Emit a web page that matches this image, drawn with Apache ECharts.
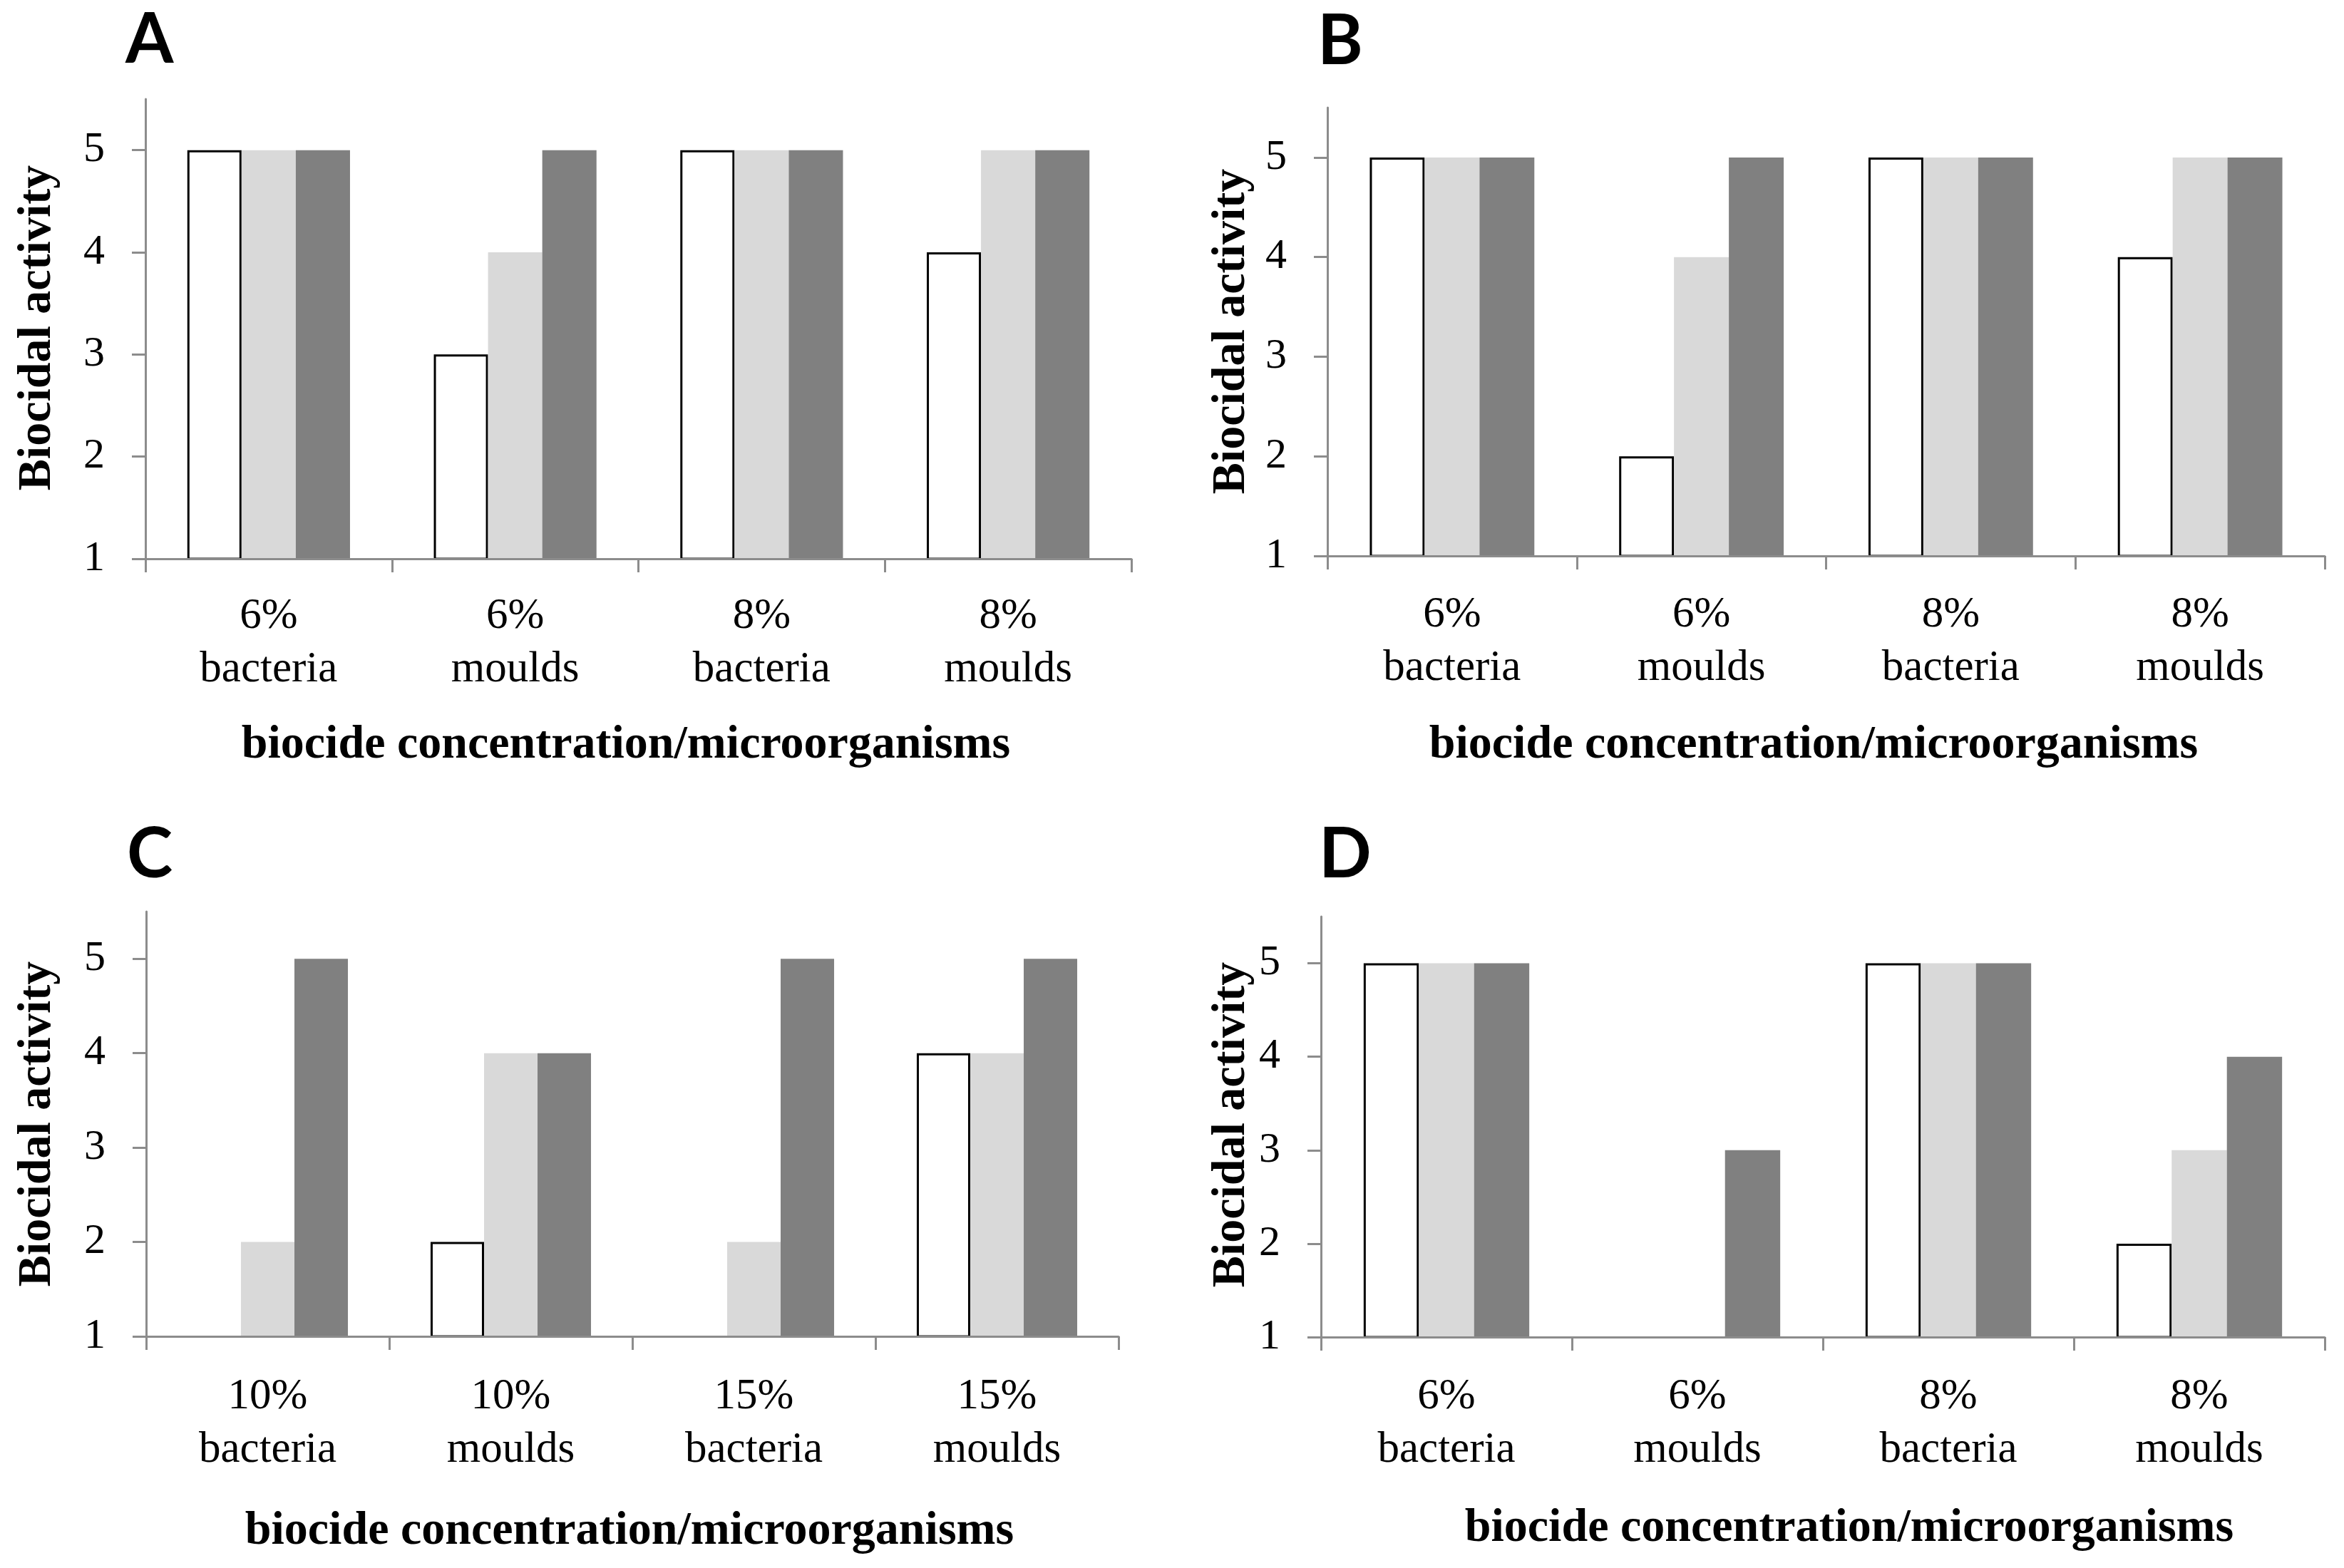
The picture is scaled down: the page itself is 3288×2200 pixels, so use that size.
<!DOCTYPE html>
<html>
<head>
<meta charset="utf-8">
<script src="https://cdn.jsdelivr.net/npm/echarts@6/dist/echarts.min.js"></script>
<style>
html,body{margin:0;padding:0;background:#fff;}
#chart{width:3288px;height:2200px;}
</style>
</head>
<body>
<div id="chart"></div>
<script>
// ---- data ----
const catsAB = ['6%\nbacteria', '6%\nmoulds', '8%\nbacteria', '8%\nmoulds'];
const catsC = ['10%\nbacteria', '10%\nmoulds', '15%\nbacteria', '15%\nmoulds'];
const catsD = ['6%\nbacteria', '6%\nmoulds', '8%\nbacteria', '8%\nmoulds'];

const A_white = [5, 3, 5, 4];
const A_light = [5, 4, 5, 5];
const A_dark  = [5, 5, 5, 5];

const B_white = [5, 2, 5, 4];
const B_light = [5, 4, 5, 5];
const B_dark  = [5, 5, 5, 5];

const C_white = [null, 2, null, 4];
const C_light = [2, 4, 2, 4];
const C_dark  = [5, 4, 5, 5];

const D_white = [5, null, 5, 2];
const D_light = [5, null, 5, 3];
const D_dark  = [5, 3, 5, 4];

const yTicks = [1, 2, 3, 4, 5];
const panelLetters = ['A', 'B', 'C', 'D'];
const xTitle = 'biocide concentration/microorganisms';
const yTitle = 'Biocidal activity';

// ---- layout ----
const grids = [
  {left: 204,  top: 139,  width: 1383, height: 645},
  {left: 1862, top: 151,  width: 1399, height: 629},
  {left: 205,  top: 1279, width: 1364, height: 596},
  {left: 1853, top: 1286, width: 1408, height: 590}
];
const labelMargins = [43, 45, 47, 46];
const panels = [
  {cats: catsAB, w: A_white, l: A_light, d: A_dark},
  {cats: catsAB, w: B_white, l: B_light, d: B_dark},
  {cats: catsC,  w: C_white, l: C_light, d: C_dark},
  {cats: catsD,  w: D_white, l: D_light, d: D_dark}
];
const letterPos = [[176, 57], [1848, 59], [178, 1200], [1850, 1200]];
const xTitlePos = [[878, 1046], [2544, 1046], [883, 2149], [2594, 2145]];
const yTitlePos = [[53, 460], [1728, 465], [53, 1577], [1728, 1578]];

const SERIF = '"Liberation Serif", "Times New Roman", serif';
const AXIS_COLOR = '#8c8c8c';

const xAxes = [], yAxes = [], series = [], graphics = [];
panels.forEach((p, i) => {
  xAxes.push({
    gridIndex: i, type: 'category', data: p.cats, z: 10,
    axisLine: {show: true, lineStyle: {color: AXIS_COLOR, width: 3}},
    axisTick: {show: true, alignWithLabel: false, interval: 0, length: 19, lineStyle: {color: AXIS_COLOR, width: 3}},
    axisLabel: {interval: 0, margin: labelMargins[i], fontSize: 61, lineHeight: 75, fontFamily: SERIF, color: '#000'},
    splitLine: {show: false}
  });
  yAxes.push({
    gridIndex: i, type: 'value', min: 1, max: 5.5, interval: 1,
    axisLine: {show: true, lineStyle: {color: AXIS_COLOR, width: 3}},
    axisTick: {show: true, length: 19, customValues: yTicks, lineStyle: {color: AXIS_COLOR, width: 3}},
    axisLabel: {customValues: yTicks, margin: 57, fontSize: 60, fontFamily: SERIF, color: '#000'},
    splitLine: {show: false}
  });
  const common = {type: 'bar', xAxisIndex: i, yAxisIndex: i, barWidth: '22%', barGap: '0%', animation: false};
  series.push(Object.assign({}, common, {name: 'white', data: p.w, itemStyle: {color: '#ffffff', borderColor: '#000000', borderWidth: 3}}));
  series.push(Object.assign({}, common, {name: 'light', data: p.l, itemStyle: {color: '#d9d9d9'}}));
  series.push(Object.assign({}, common, {name: 'dark', data: p.d, itemStyle: {color: '#808080'}}));

  graphics.push({type: 'text', x: letterPos[i][0], y: letterPos[i][1],
    style: {text: panelLetters[i], fill: '#000', font: 'bold 97px Lato, "Liberation Sans", sans-serif', align: 'left', verticalAlign: 'middle'}});
  graphics.push({type: 'text', x: xTitlePos[i][0], y: xTitlePos[i][1],
    style: {text: xTitle, fill: '#000', font: 'bold 66px ' + SERIF, align: 'center', verticalAlign: 'middle'}});
  graphics.push({type: 'text', x: yTitlePos[i][0], y: yTitlePos[i][1], rotation: Math.PI / 2,
    style: {text: yTitle, fill: '#000', font: 'bold 66px ' + SERIF, align: 'center', verticalAlign: 'middle'}});
});

const chart = echarts.init(document.getElementById('chart'), null, {renderer: 'canvas'});
chart.setOption({
  backgroundColor: '#ffffff',
  animation: false,
  grid: grids,
  xAxis: xAxes,
  yAxis: yAxes,
  series: series,
  graphic: graphics
});
</script>
</body>
</html>
